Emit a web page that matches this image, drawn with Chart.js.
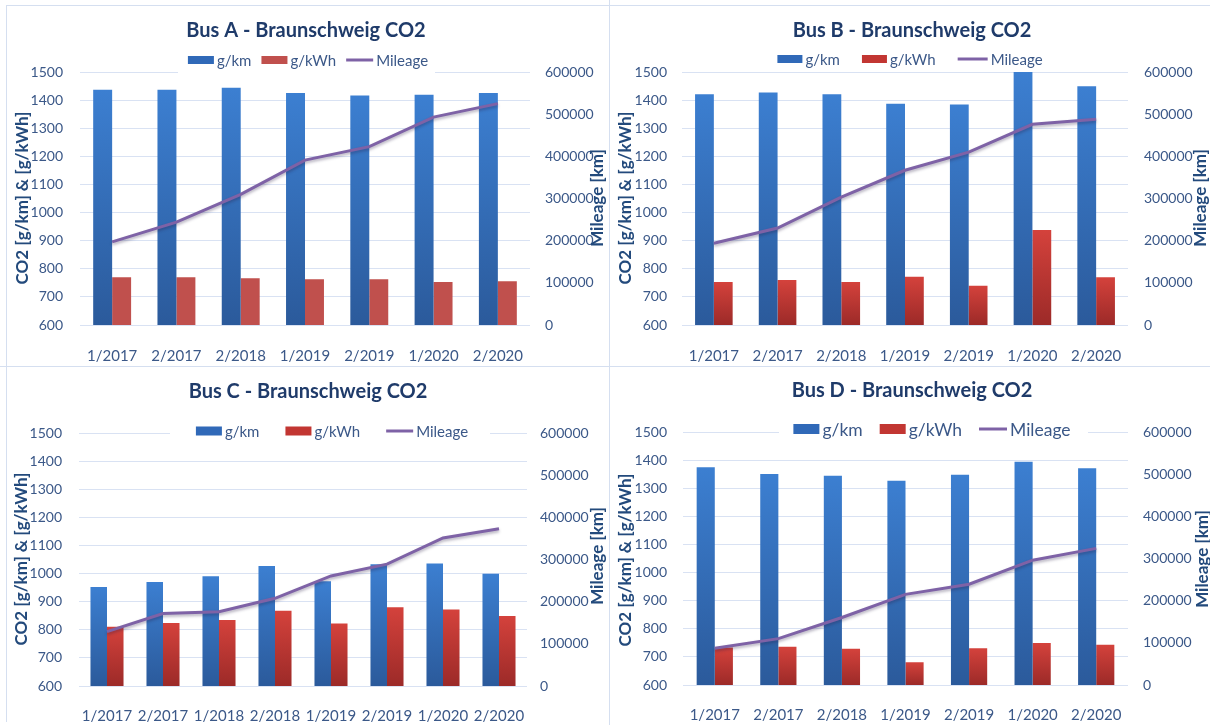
<!DOCTYPE html>
<html>
<head>
<meta charset="utf-8">
<title>Braunschweig CO2</title>
<script src="https://cdn.jsdelivr.net/npm/chart.js@4.4.1/dist/chart.umd.min.js"></script>
<style>
  html, body { margin: 0; padding: 0; background: #ffffff; }
  #page { position: relative; width: 1210px; height: 725px; overflow: hidden; background: #ffffff; }
  .panel { position: absolute; width: 602px; height: 360px; }
  .panel canvas { display: block; }
  .rule { position: absolute; background: #d5dff0; }
</style>
</head>
<body>
<div id="page">
  <div class="rule" style="left:6px;top:5px;width:1204px;height:1px"></div>
  <div class="rule" style="left:6px;top:5px;width:1px;height:717px"></div>
  <div class="rule" style="left:609px;top:0;width:1px;height:725px"></div>
  <div class="rule" style="left:0;top:366px;width:1210px;height:1px"></div>
  <div class="panel" style="left:6px;top:5px"><canvas id="busA" width="602" height="360"></canvas></div>
  <div class="panel" style="left:608px;top:5px"><canvas id="busB" width="602" height="360"></canvas></div>
  <div class="panel" style="left:6px;top:365px"><canvas id="busC" width="602" height="360"></canvas></div>
  <div class="panel" style="left:608px;top:365px"><canvas id="busD" width="602" height="360"></canvas></div>
</div>
<script>
// Reporting periods
const periodsABD = ['1/2017', '2/2017', '2/2018', '1/2019', '2/2019', '1/2020', '2/2020'];
const periodsC   = ['1/2017', '2/2017', '1/2018', '2/2018', '1/2019', '2/2019', '1/2020', '2/2020'];

// Bus A
const busA_gkm     = [1437, 1437, 1444, 1425, 1416, 1419, 1425];
const busA_gkwh    = [770, 770, 766, 763, 763, 753, 756];
const busA_mileage = [197000, 244000, 310000, 391000, 423000, 493000, 525000];

// Bus B
const busB_gkm     = [1421, 1427, 1421, 1387, 1384, 1500, 1449];
const busB_gkwh    = [753, 760, 753, 772, 740, 938, 770];
const busB_mileage = [194000, 230000, 303000, 367000, 410000, 476000, 488000];

// Bus C
const busC_gkm     = [952, 970, 990, 1027, 973, 1033, 1036, 999];
const busC_gkwh    = [811, 824, 835, 868, 822, 880, 872, 849];
const busC_mileage = [129000, 172000, 176000, 208000, 261000, 289000, 351000, 373000];

// Bus D
const busD_gkm     = [1375, 1351, 1344, 1327, 1348, 1394, 1371];
const busD_gkwh    = [733, 736, 729, 681, 731, 749, 743];
const busD_mileage = [87000, 110000, 160000, 215000, 239000, 296000, 324000];

// Axis ranges
const co2Min = 600, co2Max = 1500, co2Step = 100;
const kmMin = 0, kmMax = 600000, kmStep = 100000;

const FONT = 'Lato, "Open Sans", sans-serif';
const TICK_COLOR = '#3b5888';
const TITLE_COLOR = '#1f3b6a';
const AXIS_TITLE_COLOR = '#234a7c';
const GRID_COLOR = '#d9e2f3';
const LINE_COLOR = '#7e62a6';

// vertical gradient spanning a single bar
function barGradient(top, bottom) {
  return function (ctx) {
    const chart = ctx.chart;
    const y = chart.scales.y;
    if (!y || ctx.type !== 'data') return top;
    const v = ctx.raw;
    const yTop = y.getPixelForValue(Math.min(v, co2Max));
    const yBot = y.getPixelForValue(co2Min);
    if (!isFinite(yTop) || !isFinite(yBot) || yBot - yTop < 1) return top;
    const g = chart.ctx.createLinearGradient(0, yTop, 0, yBot);
    g.addColorStop(0, top);
    g.addColorStop(1, bottom);
    return g;
  };
}

const BLUE_TOP = '#3c7fd1', BLUE_BOT = '#2b5a9b';
const RED_TOP = '#d4423c', RED_BOT = '#9c2a28';
const RED_FLAT = '#c0504d';

// titles, legend and axis titles for one panel
function panelDecor(cfg) {
  return {
    id: 'panelDecor',
    beforeDatasetsDraw(chart) {
      const c = chart.ctx;
      const w = cfg.legendClear;
      c.save();
      c.fillStyle = '#ffffff';
      c.fillRect(w[0], w[1], w[2] - w[0], w[3] - w[1]);
      c.restore();
    },
    beforeDatasetDraw(chart, args) {
      if (chart.data.datasets[args.index].type === 'line') {
        const c = chart.ctx;
        c.save();
        c.shadowColor = 'rgba(40,30,70,0.35)';
        c.shadowBlur = 3;
        c.shadowOffsetY = 2;
      }
    },
    afterDatasetDraw(chart, args) {
      if (chart.data.datasets[args.index].type === 'line') chart.ctx.restore();
    },
    afterDraw(chart) {
      const c = chart.ctx;
      c.save();
      // chart title
      c.fillStyle = TITLE_COLOR;
      c.font = 'bold 20px ' + FONT;
      c.textAlign = 'center';
      c.textBaseline = 'middle';
      c.fillText(cfg.title, cfg.titleX, cfg.titleY);

      // legend
      const L = cfg.legend;
      c.font = L.size + 'px ' + FONT;
      const items = chart.data.datasets.map(ds => ({
        label: ds.label,
        kind: ds.type === 'line' ? 'line' : 'box',
        color: ds.legendColor
      }));
      const keyW = it => (it.kind === 'line' ? L.lineW : L.boxW);
      let total = 0;
      items.forEach((it, i) => {
        it.tw = c.measureText(it.label).width;
        total += keyW(it) + L.textGap + it.tw + (i < items.length - 1 ? L.gap : 0);
      });
      let x = L.cx - total / 2;
      c.textAlign = 'left';
      items.forEach(it => {
        const kw = keyW(it);
        if (it.kind === 'line') {
          c.strokeStyle = it.color;
          c.lineWidth = 3;
          c.beginPath();
          c.moveTo(x, L.y);
          c.lineTo(x + kw, L.y);
          c.stroke();
        } else {
          c.fillStyle = it.color;
          c.fillRect(x, L.y - L.boxH / 2, kw, L.boxH);
        }
        x += kw + L.textGap;
        c.fillStyle = TICK_COLOR;
        c.fillText(it.label, x, L.y + 1);
        x += it.tw + L.gap;
      });

      // rotated axis titles, both reading upwards
      c.fillStyle = AXIS_TITLE_COLOR;
      c.font = 'bold 17px ' + FONT;
      c.textAlign = 'center';
      [[cfg.leftTitle, 'CO2 [g/km] & [g/kWh]'], [cfg.rightTitle, 'Mileage [km]']].forEach(([p, txt]) => {
        c.save();
        c.translate(p.x, p.y);
        c.rotate(-Math.PI / 2);
        c.fillText(txt, 0, 0);
        c.restore();
      });
      c.restore();
    }
  };
}

function buildChart(id, labels, gkm, gkwh, mileage, cfg) {
  const tickFont = { family: FONT, size: 14 };
  return new Chart(document.getElementById(id), {
    type: 'bar',
    data: {
      labels: labels,
      datasets: [
        {
          label: 'g/km', data: gkm, yAxisID: 'y', order: 1,
          backgroundColor: barGradient(BLUE_TOP, BLUE_BOT), legendColor: '#3069b8',
          categoryPercentage: cfg.catPct, barPercentage: 1
        },
        {
          label: 'g/kWh', data: gkwh, yAxisID: 'y', order: 1,
          backgroundColor: cfg.flatRed ? RED_FLAT : barGradient(RED_TOP, RED_BOT),
          legendColor: cfg.flatRed ? RED_FLAT : '#c23632',
          categoryPercentage: cfg.catPct, barPercentage: 1
        },
        {
          type: 'line', label: 'Mileage', data: mileage, yAxisID: 'y1', order: 0,
          borderColor: LINE_COLOR, borderWidth: 3, pointRadius: 0, tension: 0,
          fill: false, legendColor: LINE_COLOR
        }
      ]
    },
    options: {
      responsive: false,
      animation: false,
      devicePixelRatio: 1,
      layout: { padding: { top: cfg.top, left: 0, right: 0, bottom: 0 } },
      plugins: { legend: { display: false }, title: { display: false }, tooltip: { enabled: false } },
      scales: {
        x: {
          grid: { display: false },
          border: { display: false },
          ticks: { color: TICK_COLOR, font: { family: FONT, size: 15 }, padding: cfg.xPad, maxRotation: 0, autoSkip: false },
          afterFit(s) { s.height = cfg.xH; }
        },
        y: {
          position: 'left', min: co2Min, max: co2Max,
          grid: { color: GRID_COLOR, lineWidth: 1, drawTicks: false },
          border: { display: false },
          ticks: { stepSize: co2Step, color: TICK_COLOR, font: tickFont, padding: cfg.leftPad, callback: v => String(v) },
          afterFit(s) { s.width = cfg.leftW; }
        },
        y1: {
          position: 'right', min: kmMin, max: kmMax,
          grid: { display: false, drawTicks: false },
          border: { display: false },
          ticks: { stepSize: kmStep, color: TICK_COLOR, font: tickFont, padding: cfg.rightPad, callback: v => String(v) },
          afterFit(s) { s.width = cfg.rightW; }
        }
      }
    },
    plugins: [panelDecor(cfg)]
  });
}

buildChart('busA', periodsABD, busA_gkm, busA_gkwh, busA_mileage, {
  title: 'Bus A - Braunschweig CO2', titleX: 300, titleY: 26,
  top: 67, xH: 40, xPad: 14, leftW: 74, leftPad: 17, rightW: 78, rightPad: 15,
  catPct: 0.59, flatRed: true,
  legend: { cx: 302, y: 55, size: 15, boxW: 26, boxH: 8, lineW: 27, textGap: 3, gap: 10 },
  legendClear: [172, 44, 429, 70],
  leftTitle: { x: 17, y: 193 }, rightTitle: { x: 592, y: 193 }
});

buildChart('busB', periodsABD, busB_gkm, busB_gkwh, busB_mileage, {
  title: 'Bus B - Braunschweig CO2', titleX: 304, titleY: 26,
  top: 67, xH: 40, xPad: 14, leftW: 74, leftPad: 15, rightW: 82, rightPad: 16,
  catPct: 0.59, flatRed: false,
  legend: { cx: 302, y: 54, size: 15, boxW: 25, boxH: 8, lineW: 30, textGap: 3, gap: 22 },
  legendClear: [160, 44, 445, 66],
  leftTitle: { x: 18, y: 193 }, rightTitle: { x: 593, y: 193 }
});

buildChart('busC', periodsC, busC_gkm, busC_gkwh, busC_mileage, {
  title: 'Bus C - Braunschweig CO2', titleX: 302, titleY: 27,
  top: 68, xH: 39, xPad: 13, leftW: 73, leftPad: 17, rightW: 81, rightPad: 13,
  catPct: 0.59, flatRed: false,
  legend: { cx: 326, y: 66, size: 15, boxW: 26, boxH: 9, lineW: 27, textGap: 3, gap: 26 },
  legendClear: [164, 56, 484, 77],
  leftTitle: { x: 16, y: 194 }, rightTitle: { x: 592, y: 191 }
});

buildChart('busD', periodsABD, busD_gkm, busD_gkwh, busD_mileage, {
  title: 'Bus D - Braunschweig CO2', titleX: 304, titleY: 26,
  top: 67, xH: 40, xPad: 13, leftW: 75, leftPad: 16, rightW: 82, rightPad: 15,
  catPct: 0.57, flatRed: false,
  legend: { cx: 324, y: 64, size: 17.5, boxW: 26, boxH: 10, lineW: 28, textGap: 3, gap: 17 },
  legendClear: [171, 52, 480, 76],
  leftTitle: { x: 18, y: 195 }, rightTitle: { x: 595, y: 194 }
});
</script>
</body>
</html>
